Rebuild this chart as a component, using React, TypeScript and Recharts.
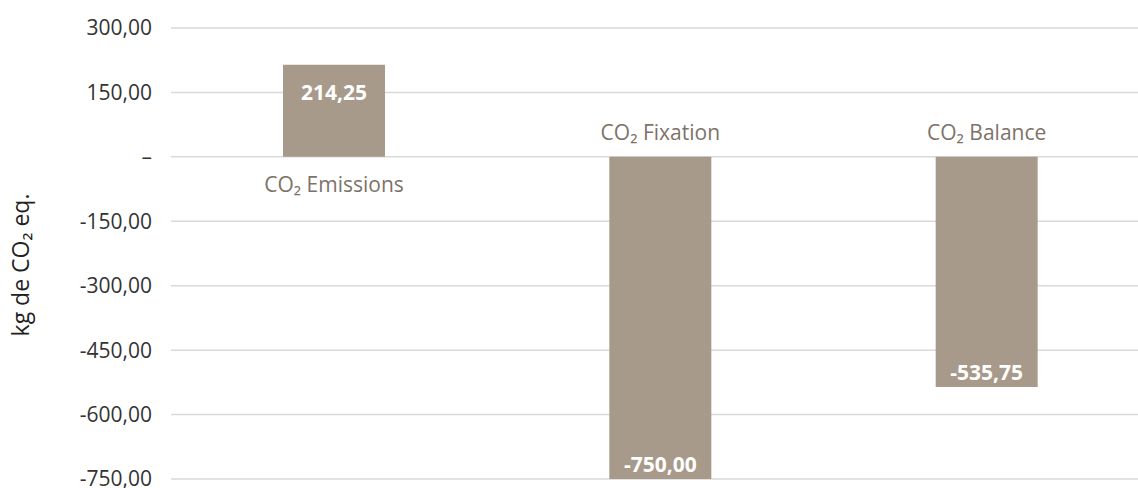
import React from "react";
import { BarChart, Bar, XAxis, YAxis, CartesianGrid, LabelList } from "recharts";

const categories = ["CO₂ Emissions", "CO₂ Fixation", "CO₂ Balance"];
const values = [214.25, -750, -535.75];
const yTicks = [-750, -600, -450, -300, -150, 0, 150, 300];

const data = categories.map((name, i) => ({ name, value: values[i] }));

const FONT = "'Open Sans', 'Noto Sans', sans-serif";

const fmt = (v: number) => (v === 0 ? "–" : v.toFixed(2).replace(".", ","));

const getBox = (props: any) => {
  const vb = props.viewBox && props.viewBox.width !== undefined ? props.viewBox : props;
  const x = Number(vb.x);
  const y = Number(vb.y);
  const w = Number(vb.width);
  const h = Number(vb.height);
  return { x, w, top: Math.min(y, y + h), bottom: Math.max(y, y + h) };
};

const ValueLabel = (props: any) => {
  const { x, w, top, bottom } = getBox(props);
  const v = values[props.index];
  const cy = v >= 0 ? top + 27 : bottom - 15;
  return (
    <text
      x={x + w / 2}
      y={cy}
      textAnchor="middle"
      dominantBaseline="central"
      fill="#ffffff"
      fontWeight={700}
      fontSize={21}
      fontFamily={FONT}
    >
      {fmt(v)}
    </text>
  );
};

const NameLabel = (props: any) => {
  const { x, w, top, bottom } = getBox(props);
  const v = values[props.index];
  const cy = v >= 0 ? bottom + 27 : top - 25;
  return (
    <text
      x={x + w / 2}
      y={cy}
      textAnchor="middle"
      dominantBaseline="central"
      fill="#7d7268"
      fontSize={21}
      fontFamily={FONT}
    >
      {categories[props.index]}
    </text>
  );
};

const AxisTitle = () => (
  <text
    x={20}
    y={265}
    transform="rotate(-90 20 265)"
    textAnchor="middle"
    dominantBaseline="central"
    fill="#222"
    fontSize={23}
    fontFamily={FONT}
  >
    kg de CO₂ eq.
  </text>
);

export default function App() {
  return (
    <div
      style={{
        position: "absolute",
        left: 0,
        top: 0,
        width: 1138,
        height: 488,
        overflow: "hidden",
        background: "#fff",
      }}
    >
      <BarChart
        width={1150}
        height={488}
        data={data}
        margin={{ top: 28, right: 0, left: 0, bottom: 9 }}
      >
        <CartesianGrid vertical={false} stroke="#d9d9d9" strokeWidth={1.5} />
        <XAxis dataKey="name" hide />
        <YAxis
          width={171}
          domain={[-750, 300]}
          ticks={yTicks}
          interval={0}
          axisLine={false}
          tickLine={false}
          tickSize={0}
          tickMargin={19}
          tickFormatter={fmt}
          tick={{ fontSize: 21, fill: "#333", fontFamily: FONT }}
          label={<AxisTitle />}
        />
        <Bar dataKey="value" fill="#a89a8a" barSize={102} isAnimationActive={false}>
          <LabelList dataKey="value" content={ValueLabel} />
          <LabelList dataKey="name" content={NameLabel} />
        </Bar>
      </BarChart>
    </div>
  );
}
